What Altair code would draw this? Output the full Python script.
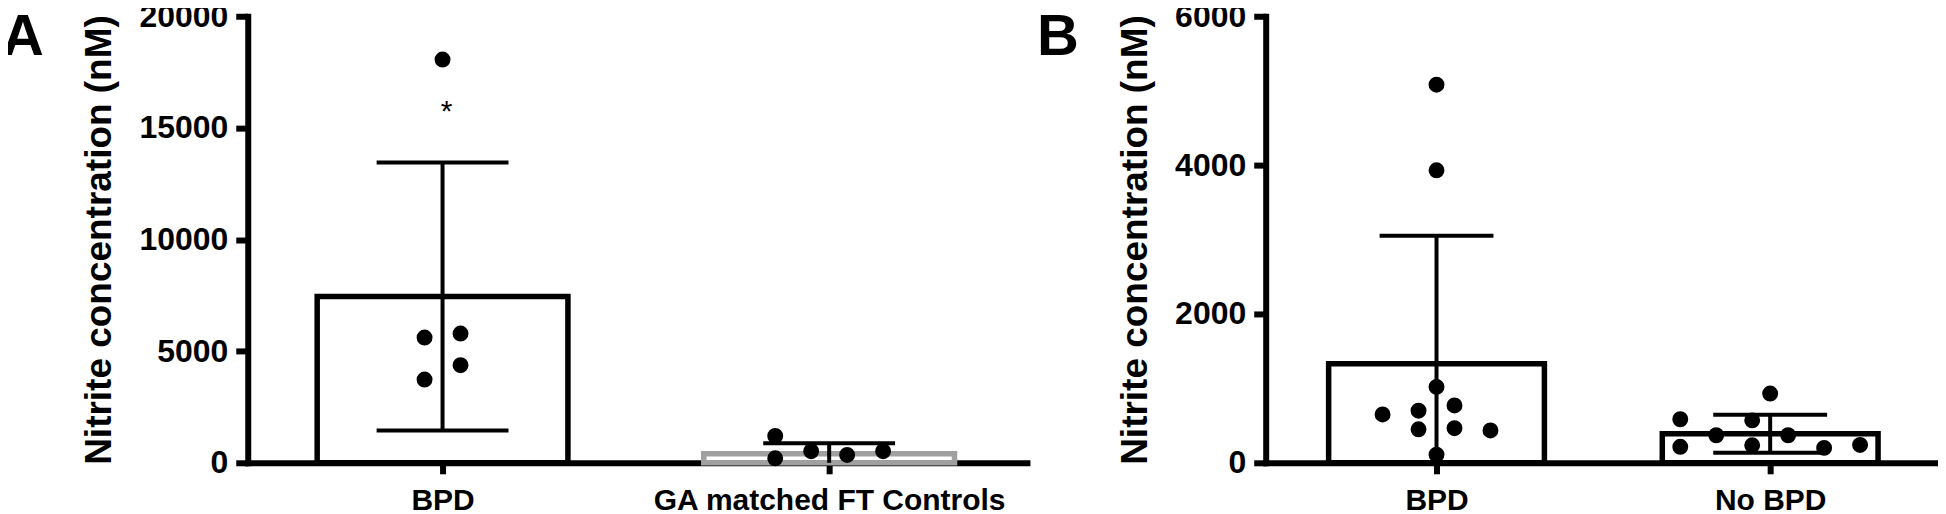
import json
import altair as alt
import pandas as pd

# ---------------- data ----------------
cats_a = ["BPD", "GA matched FT Controls"]
mean_a = [7450, 400]
sd_a = [6000, 470]
dots_a_group = [0, 0, 0, 0, 0, 1, 1, 1, 1, 1]
dots_a_value = [18060, 5610, 5790, 3730, 4370, 1200, 200, 520, 350, 520]
dots_a_slot = [0, -1, 1, -1, 1, -3, -3, -1, 1, 3]
sig_a_group = [0]
sig_a_value = [15300]
sig_a_text = ["*"]
yticks_a = [0, 5000, 10000, 15000, 20000]

cats_b = ["BPD", "No BPD"]
mean_b = [1330, 390]
sd_b = [1720, 255]
dots_b_group = [0, 0, 0, 0, 0, 0, 0, 0, 0, 0, 1, 1, 1, 1, 1, 1, 1, 1, 1]
dots_b_value = [5080, 3930, 650, 700, 450, 1020, 110, 770, 465, 435,
                930, 585, 215, 370, 570, 235, 370, 200, 240]
dots_b_slot = [0, 0, -3, -1, -1, 0, 0, 1, 1, 3,
               0, -5, -5, -3, -1, -1, 1, 3, 5]
yticks_b = [0, 2000, 4000, 6000]

y_title = "Nitrite concentration (nM)"
bar_colors = ["#000000", "#a0a0a0"]

FONT = "Liberation Sans"


def panel(cats, means, sds, dgroup, dvalue, dslot, yticks, letter,
          width, step_px, left_px, right_px, bar_px, cap_px, letter_x,
          sig=None):
    x_dom = [-left_px / step_px, 1 + right_px / step_px]
    hw = bar_px / 2 / step_px
    hc = cap_px / 2 / step_px
    slot = 18 / step_px

    xscale = alt.Scale(domain=x_dom, nice=False, zero=False)
    yscale = alt.Scale(domain=[yticks[0], yticks[-1]], nice=False)
    xaxis = alt.Axis(values=[0, 1], labelExpr=f"{json.dumps(cats)}[datum.value]",
                     title=None, grid=False, domainWidth=6, tickWidth=6, tickSize=11,
                     domainColor="black", tickColor="black", labelColor="black",
                     labelFont=FONT, labelFontSize=30, labelFontWeight="bold",
                     labelPadding=12, labelFlush=False, labelOverlap=False,
                     labelLimit=0, domainCap="square")
    yaxis = alt.Axis(values=yticks, format="d", title=y_title, grid=False,
                     domainWidth=6, tickWidth=6, tickSize=12,
                     domainColor="black", tickColor="black", labelColor="black",
                     labelFont=FONT, labelFontSize=32, labelFontWeight="bold",
                     labelPadding=8, labelFlush=False, labelOverlap=False,
                     labelLimit=0,
                     titleFont=FONT, titleFontSize=37, titleFontWeight="bold",
                     titleColor="black", titlePadding=20, domainCap="square")

    bars = pd.DataFrame({
        "cat": cats,
        "x": [i - hw for i in range(2)],
        "x2": [i + hw for i in range(2)],
        "y": means,
        "y0": [0, 0],
    })
    err = pd.DataFrame({
        "x": [0, 1],
        "lo": [max(0, m - s) for m, s in zip(means, sds)],
        "hi": [m + s for m, s in zip(means, sds)],
    })
    caps_rows = []
    for i, (m, s) in enumerate(zip(means, sds)):
        caps_rows.append({"x": i - hc, "x2": i + hc, "y": m + s})
        if m - s > 0:
            caps_rows.append({"x": i - hc, "x2": i + hc, "y": m - s})
    caps = pd.DataFrame(caps_rows)
    dots = pd.DataFrame({
        "x": [g + s * slot for g, s in zip(dgroup, dslot)],
        "y": dvalue,
    })

    bar_layer = alt.Chart(bars).mark_bar(fill="white", strokeWidth=5.5).encode(
        x=alt.X("x:Q", scale=xscale, axis=xaxis),
        x2="x2:Q",
        y=alt.Y("y:Q", scale=yscale, axis=yaxis),
        y2="y0:Q",
        stroke=alt.Stroke("cat:N", scale=alt.Scale(domain=cats, range=bar_colors),
                          legend=None),
    )
    err_layer = alt.Chart(err).mark_rule(color="black", strokeWidth=4).encode(
        x="x:Q", y="lo:Q", y2="hi:Q")
    cap_layer = alt.Chart(caps).mark_rule(color="black", strokeWidth=4).encode(
        x="x:Q", x2="x2:Q", y="y:Q")
    dot_layer = alt.Chart(dots).mark_circle(color="black", size=254, opacity=1).encode(
        x="x:Q", y="y:Q")
    letter_layer = alt.Chart(pd.DataFrame({"t": [letter]})).mark_text(
        font=FONT, fontSize=58, fontWeight="bold", align="left",
        baseline="alphabetic", color="black").encode(
        x=alt.value(letter_x), y=alt.value(39), text="t:N")
    layers = [bar_layer, err_layer, cap_layer, dot_layer, letter_layer]
    if sig is not None:
        sdf = pd.DataFrame({"x": sig[0], "y": sig[1], "t": sig[2]})
        layers.append(alt.Chart(sdf).mark_text(
            font=FONT, fontSize=30, baseline="alphabetic", color="black", dx=4
        ).encode(x="x:Q", y="y:Q", text="t:N"))
    return alt.layer(*layers).properties(width=width, height=447)


chart_a = panel(cats_a, mean_a, sd_a, dots_a_group, dots_a_value, dots_a_slot,
                yticks_a, "A", 780, 387, 195, 198, 251, 132, -246,
                sig=(sig_a_group, sig_a_value, sig_a_text))
chart_b = panel(cats_b, mean_b, sd_b, dots_b_group, dots_b_value, dots_b_slot,
                yticks_b, "B", 673, 334, 171, 168, 216, 114, -229)

chart = alt.hconcat(chart_a, chart_b, spacing=10).configure_view(
    stroke=None).properties(padding={"left": -6, "top": -8, "right": 0, "bottom": 0})

chart.save("out.html", embed_options={"renderer": "svg", "actions": False})
